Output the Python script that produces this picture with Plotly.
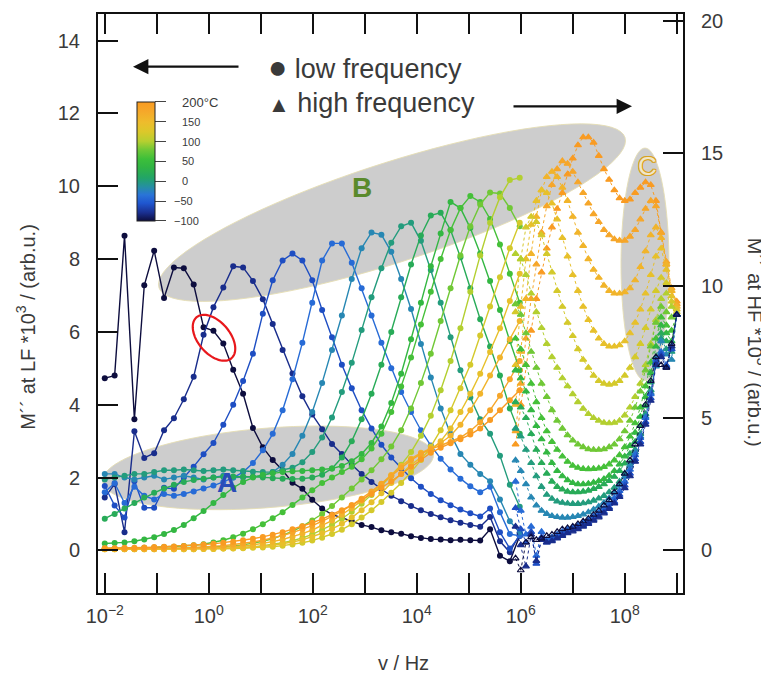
import numpy as np
import plotly.graph_objects as go
from plotly.colors import sample_colorscale

# ---------------- data ----------------
# low-frequency measurement grid (log10 of frequency / Hz)
LF_LOGF = [-2.00, -1.81, -1.62, -1.43, -1.24, -1.05, -0.86, -0.67, -0.48, -0.29,
           -0.10, 0.09, 0.28, 0.47, 0.66, 0.85, 1.04, 1.23, 1.42, 1.61,
           1.80, 1.99, 2.18, 2.37, 2.56, 2.75, 2.94, 3.13, 3.32, 3.51,
           3.70, 3.89, 4.08, 4.27, 4.46, 4.65, 4.84, 5.03, 5.22, 5.41,
           5.60, 5.79, 5.98]
# high-frequency measurement grid (log10 of frequency / Hz)
HF_LOGF = [5.9, 6.0, 6.1, 6.2, 6.3, 6.4, 6.5, 6.6, 6.7, 6.8,
           6.9, 7.0, 7.1, 7.2, 7.3, 7.4, 7.5, 7.6, 7.7, 7.8,
           7.9, 8.0, 8.1, 8.2, 8.3, 8.4, 8.5, 8.6, 8.7, 8.8,
           8.9, 9.0]

TEMPS = [-100, -80, -60, -40, -20, 0, 20, 40, 60, 80, 100, 120, 140, 160, 180, 200]

# M'' at LF * 10^3 (left axis)
lf_m100 = [4.73, 4.80, 8.64, 3.60, 7.28, 8.23, 6.93, 7.77, 7.75, 7.30, 6.13, 6.03, 5.68, 4.96, 4.30, 3.36, 2.83, 2.48, 2.20, 1.86, 1.69, 1.39, 1.15, 0.98, 0.90, 0.80, 0.70, 0.64, 0.55, 0.50, 0.46, 0.39, 0.34, 0.31, 0.30, 0.28, 0.29, 0.28, 0.27, 0.58, -0.15, -0.30, 0.40]
lf_m80 = [1.45, 1.82, 0.50, 3.27, 2.54, 2.67, 3.30, 3.63, 4.15, 4.77, 5.92, 6.68, 7.22, 7.80, 7.77, 7.40, 6.90, 6.22, 5.50, 4.86, 4.23, 3.73, 3.33, 2.92, 2.65, 2.35, 2.10, 1.88, 1.68, 1.50, 1.35, 1.22, 1.10, 1.00, 0.91, 0.83, 0.76, 0.70, 0.65, 0.92, 0.25, -0.05, 0.45]
lf_m60 = [1.77, 1.23, 0.90, 1.90, 1.17, 1.17, 1.72, 1.69, 2.00, 2.30, 2.64, 2.95, 3.45, 4.00, 4.65, 5.40, 6.50, 7.42, 7.96, 8.15, 7.96, 7.42, 6.60, 5.85, 5.10, 4.45, 3.85, 3.35, 2.90, 2.55, 2.25, 1.98, 1.75, 1.55, 1.38, 1.24, 1.12, 1.02, 0.93, 1.15, 0.50, 0.05, 0.40]
lf_m40 = [1.60, 1.85, 1.30, 1.75, 1.50, 1.40, 1.55, 1.50, 1.55, 1.62, 1.70, 1.78, 1.88, 2.00, 2.15, 2.40, 2.75, 3.20, 3.85, 4.70, 5.70, 6.80, 7.96, 8.43, 8.43, 7.90, 7.20, 6.45, 5.70, 5.00, 4.35, 3.80, 3.30, 2.88, 2.52, 2.22, 1.97, 1.76, 1.60, 1.75, 1.05, 0.45, 0.40]
lf_m20 = [2.10, 2.10, 2.00, 1.95, 2.00, 2.05, 1.95, 2.00, 2.05, 2.00, 1.95, 2.00, 2.05, 2.00, 2.00, 2.02, 2.05, 2.15, 2.35, 2.65, 3.15, 3.80, 4.60, 5.50, 6.45, 7.45, 8.30, 8.73, 8.67, 8.20, 7.45, 6.63, 5.67, 4.75, 3.90, 3.20, 2.65, 2.35, 2.10, 1.90, 1.40, 0.80, 0.50]
lf_p0 = [1.95, 2.00, 2.05, 2.10, 2.10, 2.15, 2.20, 2.20, 2.22, 2.20, 2.18, 2.20, 2.22, 2.20, 2.18, 2.16, 2.15, 2.15, 2.20, 2.27, 2.42, 2.70, 3.10, 3.65, 4.35, 5.15, 6.05, 6.95, 7.75, 8.45, 8.90, 9.00, 8.50, 7.70, 6.80, 5.85, 4.95, 4.20, 3.60, 3.20, 2.60, 1.80, 1.20]
lf_p20 = [0.87, 1.00, 1.15, 1.30, 1.45, 1.58, 1.70, 1.80, 1.88, 1.93, 1.97, 2.00, 2.02, 2.03, 2.03, 2.02, 2.00, 1.98, 1.97, 1.96, 1.97, 2.00, 2.08, 2.25, 2.55, 3.00, 3.60, 4.30, 5.10, 6.00, 6.95, 7.85, 8.65, 9.20, 9.27, 8.80, 8.05, 7.20, 6.35, 5.60, 4.80, 3.90, 3.20]
lf_p40 = [0.19, 0.20, 0.22, 0.25, 0.30, 0.36, 0.45, 0.56, 0.70, 0.88, 1.08, 1.30, 1.52, 1.72, 1.88, 2.00, 2.08, 2.12, 2.15, 2.17, 2.18, 2.20, 2.22, 2.25, 2.32, 2.45, 2.65, 2.95, 3.40, 4.05, 4.85, 5.80, 6.80, 7.80, 8.70, 9.57, 9.40, 8.85, 8.15, 7.40, 6.60, 5.75, 4.95]
lf_p60 = [0.05, 0.05, 0.06, 0.06, 0.07, 0.08, 0.09, 0.10, 0.12, 0.14, 0.17, 0.22, 0.28, 0.36, 0.46, 0.58, 0.72, 0.88, 1.05, 1.25, 1.45, 1.65, 1.85, 2.00, 2.15, 2.30, 2.50, 2.80, 3.20, 3.80, 4.50, 5.30, 6.20, 7.10, 8.00, 8.80, 9.40, 9.73, 9.57, 9.10, 8.40, 7.60, 6.80]
lf_p80 = [0.04, 0.04, 0.04, 0.04, 0.05, 0.05, 0.05, 0.06, 0.06, 0.07, 0.08, 0.09, 0.10, 0.12, 0.15, 0.19, 0.25, 0.32, 0.41, 0.52, 0.66, 0.82, 1.00, 1.22, 1.45, 1.70, 1.95, 2.20, 2.50, 2.85, 3.30, 3.90, 4.60, 5.40, 6.30, 7.20, 8.10, 8.90, 9.50, 9.83, 9.80, 9.40, 8.90]
lf_p100 = [0.04, 0.04, 0.04, 0.04, 0.04, 0.04, 0.04, 0.04, 0.04, 0.04, 0.05, 0.05, 0.06, 0.07, 0.08, 0.10, 0.13, 0.16, 0.21, 0.27, 0.34, 0.44, 0.56, 0.70, 0.87, 1.06, 1.28, 1.52, 1.78, 2.05, 2.35, 2.70, 3.15, 3.70, 4.40, 5.20, 6.10, 7.10, 8.10, 9.00, 9.70, 10.17, 10.23]
lf_p120 = [0.03, 0.03, 0.03, 0.03, 0.03, 0.03, 0.03, 0.03, 0.03, 0.03, 0.04, 0.04, 0.05, 0.05, 0.06, 0.07, 0.08, 0.10, 0.13, 0.16, 0.21, 0.27, 0.35, 0.45, 0.57, 0.72, 0.90, 1.10, 1.33, 1.58, 1.85, 2.15, 2.48, 2.85, 3.30, 3.85, 4.45, 5.10, 5.90, 6.70, 7.50, 8.30, 9.00]
lf_p140 = [0.03, 0.03, 0.03, 0.03, 0.03, 0.03, 0.03, 0.03, 0.03, 0.03, 0.04, 0.04, 0.05, 0.06, 0.07, 0.09, 0.11, 0.14, 0.18, 0.23, 0.29, 0.37, 0.47, 0.59, 0.73, 0.90, 1.10, 1.32, 1.57, 1.85, 2.10, 2.35, 2.55, 2.75, 3.00, 3.35, 3.80, 4.30, 4.85, 5.45, 6.10, 6.85, 7.60]
lf_p160 = [0.04, 0.04, 0.04, 0.04, 0.04, 0.04, 0.04, 0.04, 0.05, 0.05, 0.06, 0.07, 0.08, 0.10, 0.12, 0.15, 0.19, 0.24, 0.30, 0.37, 0.46, 0.56, 0.68, 0.82, 0.98, 1.16, 1.36, 1.58, 1.82, 2.07, 2.32, 2.52, 2.68, 2.80, 2.95, 3.15, 3.45, 3.85, 4.30, 4.80, 5.30, 5.80, 6.30]
lf_p180 = [0.05, 0.05, 0.05, 0.05, 0.05, 0.05, 0.06, 0.06, 0.07, 0.08, 0.09, 0.11, 0.13, 0.16, 0.19, 0.23, 0.28, 0.34, 0.41, 0.49, 0.58, 0.68, 0.80, 0.93, 1.08, 1.24, 1.42, 1.62, 1.83, 2.05, 2.27, 2.48, 2.65, 2.78, 2.88, 2.98, 3.10, 3.28, 3.52, 3.85, 4.25, 4.70, 5.20]
lf_p200 = [0.06, 0.06, 0.07, 0.07, 0.08, 0.09, 0.10, 0.11, 0.12, 0.14, 0.16, 0.18, 0.21, 0.24, 0.28, 0.32, 0.37, 0.43, 0.50, 0.58, 0.66, 0.76, 0.86, 0.98, 1.10, 1.24, 1.39, 1.55, 1.72, 1.90, 2.10, 2.30, 2.50, 2.68, 2.82, 2.94, 3.05, 3.18, 3.35, 3.58, 3.85, 4.12, 4.40]

# M'' at HF * 10^3 (right axis)
hf_m100 = [-0.3, -0.75, 0.3, 0.5, 0.4, 0.45, 0.55, 0.6, 0.7, 0.8, 0.85, 0.9, 1.0, 1.1, 1.2, 1.35, 1.5, 1.7, 1.9, 2.2, 2.5, 2.9, 3.4, 4.0, 4.7, 5.5, 6.4, 7.3, 7.0, 6.9, 7.8, 8.9]
hf_m80 = [0.9, 0.2, -0.6, 0.6, -0.4, 0.4, 0.3, 0.35, 0.45, 0.55, 0.65, 0.72, 0.8, 0.9, 1.0, 1.12, 1.25, 1.4, 1.57, 1.77, 2.02, 2.35, 2.8, 3.35, 4.0, 4.75, 5.65, 7.0, 7.3, 6.9, 7.7, 8.9]
hf_m60 = [1.6, 0.8, 0.3, 0.7, -0.5, 0.5, 0.3, 0.4, 0.5, 0.6, 0.7, 0.78, 0.86, 0.95, 1.05, 1.17, 1.3, 1.45, 1.62, 1.83, 2.1, 2.45, 2.9, 3.45, 4.1, 4.85, 5.75, 7.1, 7.4, 6.95, 7.6, 8.9]
hf_m40 = [2.6, 1.5, 0.6, 0.9, -0.2, 0.7, 0.4, 0.5, 0.6, 0.7, 0.8, 0.88, 0.95, 1.05, 1.15, 1.28, 1.42, 1.58, 1.76, 1.98, 2.25, 2.6, 3.05, 3.6, 4.25, 5.0, 5.9, 7.2, 7.5, 7.0, 7.6, 8.9]
hf_m20 = [3.4, 3.0, 2.5, 2.0, 1.7, 1.5, 1.38, 1.3, 1.26, 1.24, 1.24, 1.26, 1.3, 1.36, 1.44, 1.54, 1.66, 1.8, 1.97, 2.18, 2.45, 2.78, 3.2, 3.7, 4.3, 5.05, 5.95, 6.95, 7.9, 7.4, 7.2, 8.9]
hf_p0 = [4.6, 4.3, 3.8, 3.3, 2.8, 2.4, 2.1, 1.95, 1.85, 1.8, 1.77, 1.76, 1.76, 1.78, 1.82, 1.88, 1.96, 2.06, 2.2, 2.37, 2.6, 2.9, 3.3, 3.8, 4.4, 5.15, 6.05, 7.05, 8.0, 7.6, 7.5, 8.9]
hf_p20 = [5.6, 5.4, 5.0, 4.4, 3.8, 3.3, 2.9, 2.6, 2.4, 2.3, 2.22, 2.2, 2.2, 2.22, 2.26, 2.32, 2.4, 2.5, 2.62, 2.78, 3.0, 3.28, 3.65, 4.1, 4.7, 5.45, 6.35, 7.3, 8.2, 7.9, 7.7, 8.9]
hf_p40 = [6.8, 6.5, 6.0, 5.3, 4.7, 4.2, 3.7, 3.3, 3.0, 2.8, 2.65, 2.55, 2.5, 2.5, 2.52, 2.56, 2.62, 2.7, 2.82, 3.0, 3.25, 3.55, 3.95, 4.45, 5.05, 5.8, 6.7, 7.7, 8.5, 8.2, 7.9, 8.9]
hf_p60 = [8.0, 7.6, 7.0, 6.3, 5.6, 5.0, 4.5, 4.1, 3.8, 3.55, 3.35, 3.2, 3.12, 3.08, 3.07, 3.08, 3.1, 3.15, 3.25, 3.4, 3.6, 3.9, 4.3, 4.8, 5.4, 6.2, 7.1, 8.0, 8.8, 8.5, 8.3, 8.9]
hf_p80 = [9.3, 8.9, 8.2, 7.5, 6.9, 6.3, 5.8, 5.3, 4.9, 4.6, 4.35, 4.15, 4.0, 3.9, 3.82, 3.8, 3.8, 3.82, 3.9, 4.0, 4.2, 4.5, 4.9, 5.4, 6.0, 6.8, 7.7, 8.6, 9.2, 9.0, 8.8, 8.9]
hf_p100 = [11.2, 11.0, 10.4, 9.7, 9.0, 8.4, 7.8, 7.3, 6.9, 6.5, 6.2, 5.9, 5.6, 5.35, 5.15, 5.0, 4.9, 4.82, 4.8, 4.82, 4.9, 5.1, 5.4, 5.8, 6.3, 7.0, 7.8, 8.7, 9.5, 9.7, 9.2, 8.9]
hf_p120 = [9.0, 11.0, 12.2, 12.6, 12.4, 11.9, 11.2, 10.5, 9.8, 9.2, 8.6, 8.1, 7.6, 7.2, 6.9, 6.6, 6.4, 6.3, 6.26, 6.3, 6.4, 6.6, 6.9, 7.3, 7.8, 8.4, 9.1, 9.8, 10.3, 10.1, 9.4, 9.0]
hf_p140 = [7.0, 9.2, 11.0, 12.3, 13.2, 13.6, 13.5, 13.1, 12.5, 11.8, 11.1, 10.4, 9.8, 9.2, 8.7, 8.3, 8.0, 7.8, 7.7, 7.7, 7.75, 7.9, 8.2, 8.6, 9.1, 9.7, 10.4, 11.1, 11.4, 10.6, 9.6, 9.1]
hf_p160 = [5.5, 7.5, 9.5, 11.2, 12.6, 13.6, 14.1, 14.3, 14.1, 13.7, 13.2, 12.6, 12.0, 11.5, 11.0, 10.6, 10.3, 10.0, 9.8, 9.7, 9.7, 9.75, 9.9, 10.2, 10.7, 11.3, 11.9, 12.2, 11.8, 10.8, 9.8, 9.2]
hf_p180 = [4.5, 6.3, 8.0, 9.5, 10.8, 12.0, 13.0, 13.8, 14.4, 14.7, 14.6, 14.3, 13.9, 13.5, 13.1, 12.7, 12.4, 12.1, 11.9, 11.75, 11.7, 11.7, 11.85, 12.1, 12.5, 12.9, 13.2, 13.0, 12.0, 10.9, 9.9, 9.3]
hf_p200 = [4.0, 5.5, 7.0, 8.3, 9.5, 10.5, 11.4, 12.2, 12.9, 13.5, 14.2, 14.8, 15.3, 15.6, 15.6, 15.4, 14.9, 14.4, 14.0, 13.6, 13.3, 13.2, 13.25, 13.5, 13.7, 13.9, 13.8, 13.2, 12.0, 10.8, 9.8, 9.4]

LF_SERIES = [lf_m100, lf_m80, lf_m60, lf_m40, lf_m20, lf_p0, lf_p20, lf_p40,
             lf_p60, lf_p80, lf_p100, lf_p120, lf_p140, lf_p160, lf_p180, lf_p200]
HF_SERIES = [hf_m100, hf_m80, hf_m60, hf_m40, hf_m20, hf_p0, hf_p20, hf_p40,
             hf_p60, hf_p80, hf_p100, hf_p120, hf_p140, hf_p160, hf_p180, hf_p200]

X_LABEL_EXP = [-2, 0, 2, 4, 6, 8]
X_MINOR_EXP = [-1, 1, 3, 5, 7, 9]
CB_TICKS = [-100, -50, 0, 50, 100, 150, 200]
CB_TEXT = ["\u2212100", "\u221250", "0", "50", "100", "150", "200\u00b0C"]

# ---------------- style ----------------
COLORSCALE = [
    [0.00, "#0d0d3e"], [0.07, "#1a2f90"], [0.15, "#1f56d0"], [0.22, "#2a74d8"],
    [0.29, "#2590a0"], [0.36, "#22a468"], [0.45, "#30b444"], [0.52, "#3cbf3a"],
    [0.60, "#70c836"], [0.67, "#b6cf30"], [0.75, "#dcc82a"], [0.83, "#eebc2c"],
    [0.92, "#f5a82a"], [1.00, "#f99b22"],
]
FONT = "Liberation Sans, Arial, Helvetica, sans-serif"
TXT = "#3a3a3a"

OFF = 8                      # page body margin of the html page
W, H = 769 - OFF, 686 - OFF
ML, MT = 98 - OFF, 10 - OFF
MR = W - (683 - OFF)
MB = H - (593 - OFF)
PW, PH = W - ML - MR, H - MT - MB


def px2paper(px, py):
    """screen pixel (in the 769x686 window) -> paper coordinates"""
    return ((px - OFF) - ML) / PW, (H - MB - (py - OFF)) / PH


def ellipse_path(cx, cy, a, b, ang_deg, n=90):
    th = np.radians(ang_deg)
    pts = []
    for k in range(n):
        t = 2 * np.pi * k / n
        px = cx + a * np.cos(t) * np.cos(th) - b * np.sin(t) * np.sin(th)
        py = cy - (a * np.cos(t) * np.sin(th) + b * np.sin(t) * np.cos(th))
        xp, yp = px2paper(px, py)
        pts.append(f"{xp:.5f},{yp:.5f}")
    return "M " + " L ".join(pts) + " Z"


def tcolor(t):
    return sample_colorscale(COLORSCALE, [(t + 100) / 300.0])[0]


fig = go.Figure()

lf_x = [10 ** v for v in LF_LOGF]
hf_x = [10 ** v for v in HF_LOGF]

for t, ys in zip(TEMPS, LF_SERIES):
    c = tcolor(t)
    fig.add_trace(go.Scatter(
        x=lf_x, y=ys, mode="lines+markers", yaxis="y",
        line=dict(color=c, width=1.4),
        marker=dict(symbol="circle", size=6, color=c),
        showlegend=False, hoverinfo="skip"))

for t, ys in reversed(list(zip(TEMPS, HF_SERIES))):
    c = tcolor(t)
    sym = "triangle-up-open" if t == -100 else "triangle-up"
    fig.add_trace(go.Scatter(
        x=hf_x, y=ys, mode="lines+markers", yaxis="y2",
        line=dict(color=c, width=1, dash="dot"),
        marker=dict(symbol=sym, size=6, color=c, line=dict(width=1.2, color=c)),
        showlegend=False, hoverinfo="skip"))

# colour bar (dummy trace outside the visible range)
CB_TOP, CB_BOT = 99, 218
cbx, cby = px2paper(137, (CB_TOP + CB_BOT) / 2)
fig.add_trace(go.Scatter(
    x=[1e-6], y=[-50], mode="markers", yaxis="y", showlegend=False, hoverinfo="skip",
    marker=dict(size=1, color=[0], cmin=-100, cmax=200, colorscale=COLORSCALE,
                showscale=True,
                colorbar=dict(x=cbx, xanchor="left", y=cby, yanchor="middle",
                              len=CB_BOT - CB_TOP, lenmode="pixels", thickness=18,
                              xpad=0, ypad=0, outlinewidth=1, outlinecolor="#222",
                              tickvals=CB_TICKS, showticklabels=False,
                              ticks="outside", ticklen=11, tickwidth=1, tickcolor="#444"))))

ELL_FILL = "rgba(196,196,196,0.85)"
ELL_LINE = dict(color="rgba(230,222,180,0.9)", width=1)
shapes = [
    dict(type="path", path=ellipse_path(392, 210, 245, 50, 18), xref="paper", yref="paper",
         fillcolor=ELL_FILL, line=ELL_LINE, layer="below"),
    dict(type="path", path=ellipse_path(268, 467, 166, 40, 4.7), xref="paper", yref="paper",
         fillcolor=ELL_FILL, line=ELL_LINE, layer="below"),
    dict(type="path", path=ellipse_path(645, 262, 117, 24, 90), xref="paper", yref="paper",
         fillcolor=ELL_FILL, line=ELL_LINE, layer="below"),
    dict(type="path", path=ellipse_path(214, 336, 27, 16, -50), xref="paper", yref="paper",
         fillcolor="rgba(0,0,0,0)", line=dict(color="#e8181c", width=2.2), layer="above"),
]

ann = []


def add_text(px, py, text, size, color=TXT, xanchor="center", angle=0, shadow=None):
    xp, yp = px2paper(px, py)
    f = dict(size=size, color=color, family=FONT)
    if shadow:
        f["shadow"] = shadow
    ann.append(dict(x=xp, y=yp, xref="paper", yref="paper", text=text, showarrow=False,
                    xanchor=xanchor, yanchor="middle", textangle=angle, font=f))


add_text(266, 63, "<span style='font-size:32px'>\u25cf</span> low frequency", 27, xanchor="left")
add_text(266, 100, "<span style='font-size:22px'>\u25b2</span> high frequency", 27, xanchor="left")
add_text(227, 482, "<b>A</b>", 28, color="#2a4cb8")
add_text(362, 185, "<b>B</b>", 28, color="#5a8a2c")
gold = "#d9a21e"
add_text(647, 163, "C", 26, color="rgba(245,240,225,0.9)",
         shadow=f"1px 0 0 {gold}, -1px 0 0 {gold}, 0 1px 0 {gold}, 0 -1px 0 {gold}, "
                f"1px 1px 0 {gold}, -1px -1px 0 {gold}, 1px -1px 0 {gold}, -1px 1px 0 {gold}")
add_text(26, 325, "M\u00b4\u00b4 at LF *10<sup>3</sup> / (arb.u.)", 20, angle=-90)
add_text(757, 340, "M\u00b4\u00b4 at HF *10<sup>3</sup> / (arb.u.)", 20, angle=90)
add_text(403, 663, "v / Hz", 20)

# colour bar labels (digits aligned, minus sign hanging to the left)
for v, s in zip(CB_TICKS, CB_TEXT):
    py = CB_BOT - (v + 100) / 300.0 * (CB_BOT - CB_TOP)
    sz = 13 if v == 200 else 11
    add_text(172 if v < 0 else 180, py, s, sz, xanchor="left")

# arrows
for tip, dx in [((133, 63), 107), ((632, 103), -120)]:
    xp, yp = px2paper(*tip)
    ann.append(dict(x=xp, y=yp, xref="paper", yref="paper", text="", showarrow=True,
                    ax=dx, ay=0, arrowhead=2, arrowsize=1.4, arrowwidth=2.2,
                    arrowcolor="#111"))

xt_text = [f"10<sup>{'\u2212' if k < 0 else ''}{abs(k)}</sup>" for k in X_LABEL_EXP]

axis_common = dict(ticks="inside", ticklen=20, tickwidth=2, tickcolor="#111",
                   showline=True, linewidth=2, linecolor="#111", showgrid=False,
                   zeroline=False, ticklabeloverflow="allow",
                   tickfont=dict(size=20, color=TXT, family=FONT))

fig.update_layout(
    width=W, height=H, margin=dict(l=ML, r=MR, t=MT, b=MB),
    paper_bgcolor="white", plot_bgcolor="white", showlegend=False,
    font=dict(family=FONT, color=TXT),
    xaxis=dict(type="log", range=[-2.13, 9.12], tickvals=[10 ** k for k in X_LABEL_EXP],
               ticktext=xt_text, mirror="ticks", ticklabelstandoff=4,
               minor=dict(tickvals=[10 ** k for k in X_MINOR_EXP], ticks="inside",
                          ticklen=20, tickwidth=2, tickcolor="#111", showgrid=False),
               **axis_common),
    yaxis=dict(range=[-1.17, 14.73], tickvals=[0, 2, 4, 6, 8, 10, 12, 14],
               ticklabelstandoff=12, **axis_common),
    yaxis2=dict(range=[-1.609, 20.254], tickvals=[0, 5, 10, 15, 20], overlaying="y",
                side="right", ticklabelstandoff=12, **axis_common),
    shapes=shapes, annotations=ann,
)

fig.write_html("out.html")
